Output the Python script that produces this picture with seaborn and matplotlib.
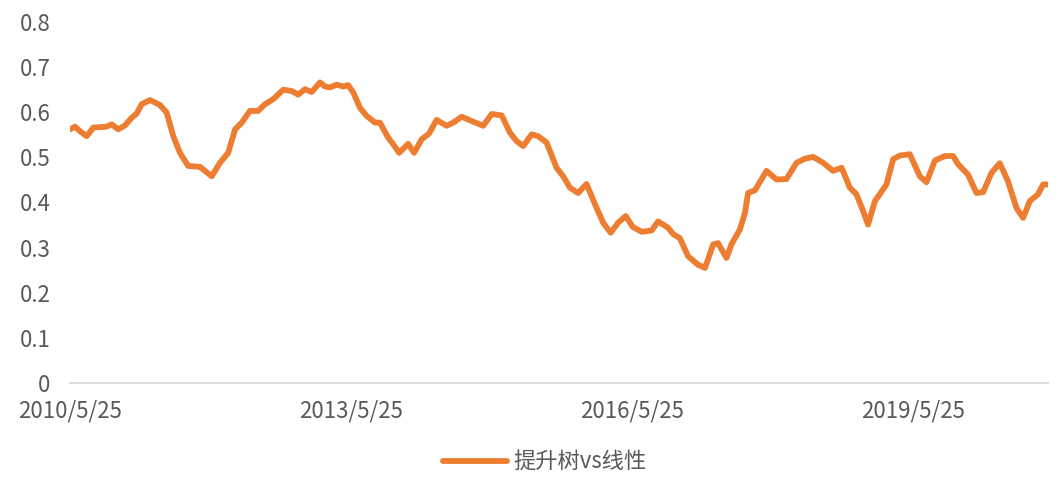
import pandas as pd
import matplotlib.pyplot as plt
import seaborn as sns

# days since 2010-05-25 and the ratio
days = [0, 20, 39, 65, 91, 143, 163, 188, 215, 241, 260, 280, 312, 351, 377, 403,
        429, 461, 507, 527, 553, 585, 617, 644, 670, 702, 734, 761, 793, 832, 865,
        890, 917, 943, 975, 995, 1014, 1040, 1066, 1085,
        1105, 1131, 1157, 1190, 1209, 1241, 1261, 1284, 1319, 1342, 1372, 1401,
        1430, 1469, 1495, 1528, 1573, 1612, 1645, 1684, 1716, 1742, 1768, 1801,
        1826, 1859, 1898, 1924, 1950, 1982, 2015, 2048, 2080, 2109, 2138, 2168,
        2195, 2230, 2269, 2294, 2333, 2353, 2379, 2411, 2450,
        2477, 2509, 2528, 2561, 2580, 2613, 2633, 2645, 2672, 2691, 2717, 2756,
        2795, 2834, 2867, 2899, 2938, 2977, 3010, 3042, 3068, 3094, 3113, 3140,
        3185, 3211, 3237, 3276, 3315, 3341, 3374, 3413, 3445, 3464, 3503, 3536,
        3562, 3595, 3627, 3659, 3692, 3718, 3744, 3776, 3796, 3815]
ratio = [0.562, 0.568, 0.558, 0.547, 0.566, 0.568, 0.573, 0.562, 0.571, 0.588,
         0.597, 0.618, 0.627, 0.616, 0.599, 0.547, 0.510, 0.481, 0.479, 0.470,
         0.458, 0.488, 0.510, 0.562, 0.577, 0.603, 0.603, 0.618, 0.629, 0.650,
         0.647, 0.639, 0.651, 0.645, 0.666, 0.657, 0.655, 0.661, 0.657, 0.660,
         0.644, 0.610, 0.592, 0.577, 0.577, 0.544, 0.529, 0.510, 0.530, 0.510,
         0.540, 0.553, 0.583, 0.570, 0.577, 0.590, 0.579, 0.570, 0.596, 0.593,
         0.555, 0.536, 0.525, 0.551, 0.547, 0.533, 0.477, 0.458, 0.433, 0.421,
         0.441, 0.396, 0.355, 0.333, 0.355, 0.370, 0.346, 0.335, 0.338, 0.358,
         0.344, 0.330, 0.321, 0.281, 0.262,
         0.255, 0.307, 0.310, 0.277, 0.307, 0.340, 0.377, 0.421, 0.427, 0.445,
         0.470, 0.451, 0.452, 0.488, 0.497, 0.501, 0.488, 0.470, 0.477, 0.433,
         0.418, 0.381, 0.351, 0.403, 0.440, 0.496, 0.504, 0.507, 0.458, 0.445,
         0.493, 0.503, 0.503, 0.485, 0.462, 0.421, 0.423, 0.466, 0.487, 0.447,
         0.388, 0.366, 0.403, 0.418, 0.440, 0.440]
tick_dates = ["2010-05-25", "2013-05-25", "2016-05-25", "2019-05-25"]
tick_labels = ["2010/5/25", "2013/5/25", "2016/5/25", "2019/5/25"]
series_name = "提升树vs线性"

start = pd.Timestamp("2010-05-25")
df = pd.DataFrame({"date": start + pd.to_timedelta(days, unit="D"), "value": ratio})

sns.set_style("white")
plt.rcParams["font.family"] = ["Noto Sans CJK SC", "DejaVu Sans"]

fig = plt.figure(figsize=(10.62, 4.83), dpi=100)
ax = fig.add_axes([0.0659, 0.207, 0.9209, 0.7475])
sns.lineplot(data=df, x="date", y="value", ax=ax, color="#ED7D31",
             linewidth=4.2, label=series_name, legend=False,
             solid_joinstyle="round", solid_capstyle="round")

ax.set_ylim(0, 0.8)
ax.set_yticks([i / 10 for i in range(9)])
ax.set_yticklabels(["0"] + [f"{i / 10:.1f}" for i in range(1, 9)])
ax.set_xlim(start, df["date"].iloc[-1])
ax.set_xticks(pd.to_datetime(tick_dates))
ax.set_xticklabels(tick_labels)
ax.set_xlabel("")
ax.set_ylabel("")
ax.tick_params(axis="both", length=0, labelsize=16, labelcolor="#595959")
ax.tick_params(axis="y", pad=14)
ax.tick_params(axis="x", pad=12)
for side in ["left", "right", "top"]:
    ax.spines[side].set_visible(False)
ax.spines["bottom"].set_color("#D9D9D9")
ax.spines["bottom"].set_linewidth(1.3)

handles, labels = ax.get_legend_handles_labels()
fig.legend(handles, labels, loc="center", bbox_to_anchor=(0.513, 0.0435),
           frameon=False, fontsize=16, handlelength=2.9, handletextpad=0.3,
           labelcolor="#595959")

fig.savefig("out.png", dpi=100)
